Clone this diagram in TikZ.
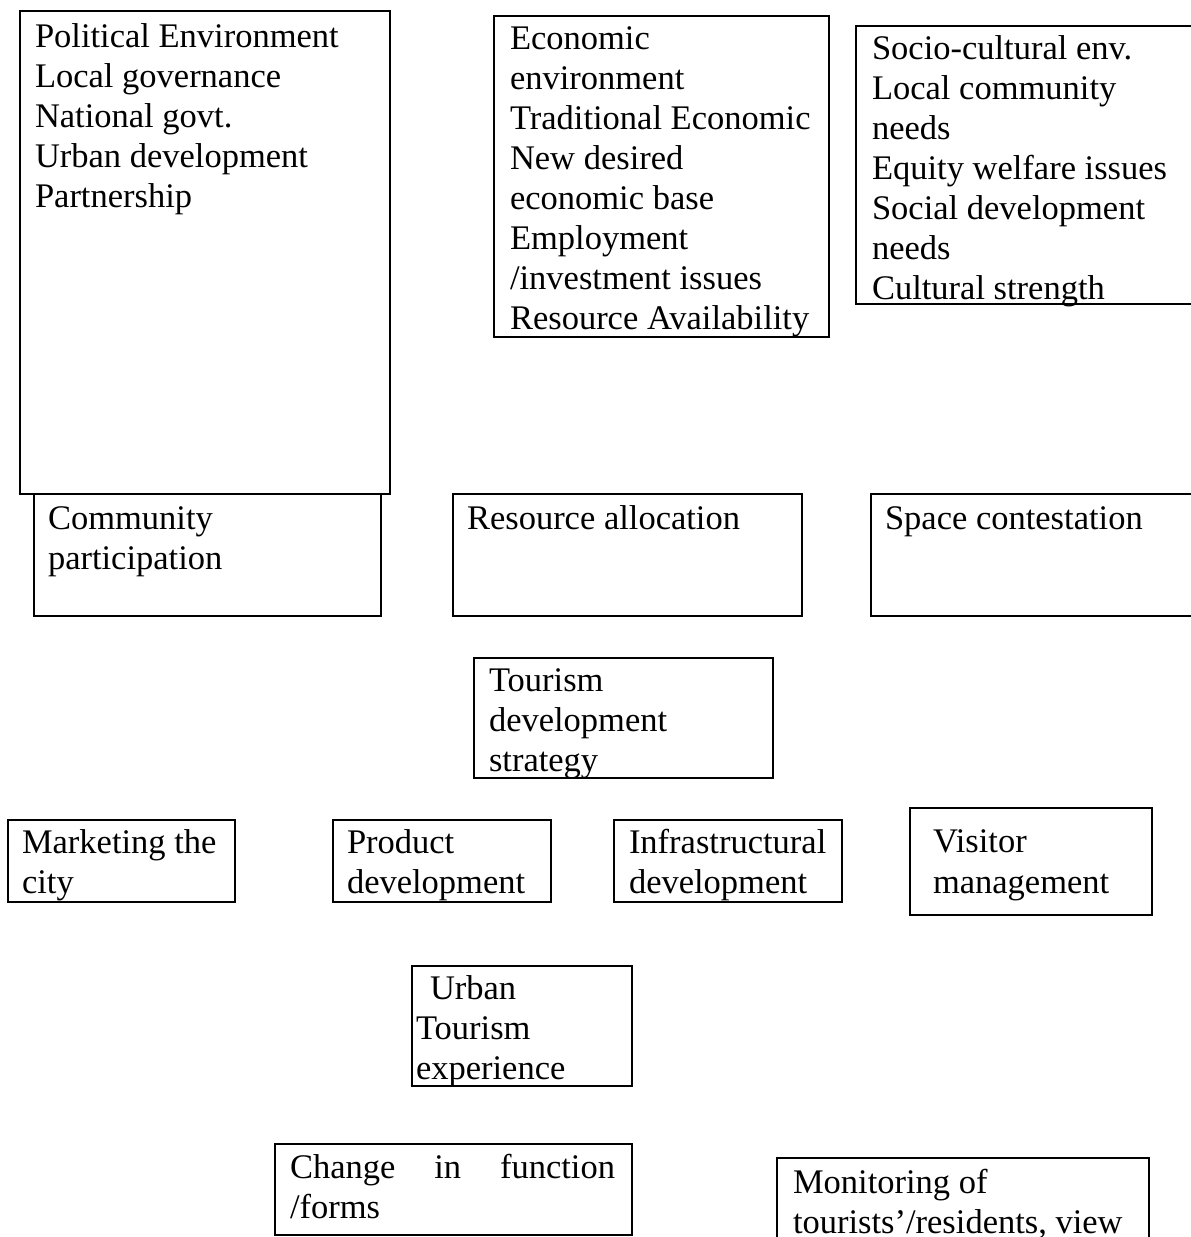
\documentclass[tikz,border=0pt]{standalone}
\usepackage{fontspec}
\setmainfont{Liberation Serif}
\begin{document}
\begin{tikzpicture}[x=1pt,y=-1pt,
  boxst/.style={draw=black,line width=1.7pt,inner sep=0pt,outer sep=0pt,anchor=north west,fill=none},
  txt/.style={inner sep=0pt,outer sep=0pt,anchor=base west,font=\fontsize{34.5}{40}\selectfont}]
\useasboundingbox (0,0) rectangle (1191,1237);
\clip (0,0) rectangle (1191,1237);
% boxes
\newcommand{\bx}[5]{\node[boxst,minimum width=#4-#2,minimum height=#5-#3] (#1) at (#2,#3) {};}
\bx{pol}{20}{11}{390}{494}
\bx{eco}{494}{16}{829}{337}
\bx{soc}{856}{26}{1210}{304}
\bx{com}{34}{494}{381}{616}
\bx{res}{453}{494}{802}{616}
\bx{spc}{871}{494}{1210}{616}
\bx{tds}{474}{658}{773}{778}
\bx{mkt}{8}{820}{235}{902}
\bx{prd}{333}{820}{551}{902}
\bx{inf}{614}{820}{842}{902}
\bx{vis}{910}{808}{1152}{915}
\bx{ute}{412}{966}{632}{1086}
\bx{chg}{275}{1144}{632}{1235}
\bx{mon}{777}{1158}{1149}{1270}
% texts
\node[txt] (polt) at (35,47) {\vtop{\baselineskip=40pt\hbox{Political Environment}\hbox{Local governance}\hbox{National govt.}\hbox{Urban development}\hbox{Partnership}}};
\node[txt] (ecot) at (510,49) {\vtop{\baselineskip=40pt\hbox{Economic}\hbox{environment}\hbox{Traditional Economic}\hbox{New desired}\hbox{economic base}\hbox{Employment}\hbox{/investment issues}\hbox{Resource Availability}}};
\node[txt] (soct) at (872,59) {\vtop{\baselineskip=40pt\hbox{Socio-cultural env.}\hbox{Local community}\hbox{needs}\hbox{Equity welfare issues}\hbox{Social development}\hbox{needs}\hbox{Cultural strength}}};
\node[txt] (comt) at (48,529) {\vtop{\baselineskip=40pt\hbox{Community}\hbox{participation}}};
\node[txt] (rest) at (467,529) {Resource allocation};
\node[txt] (spct) at (885,529) {Space contestation};
\node[txt] (tdst) at (489,691) {\vtop{\baselineskip=40pt\hbox{Tourism}\hbox{development}\hbox{strategy}}};
\node[txt] (mktt) at (22,853) {\vtop{\baselineskip=40pt\hbox{Marketing the}\hbox{city}}};
\node[txt] (prdt) at (347,853) {\vtop{\baselineskip=40pt\hbox{Product}\hbox{development}}};
\node[txt] (inft) at (629,853) {\vtop{\baselineskip=40pt\hbox{Infrastructural}\hbox{development}}};
\node[txt] (vist) at (933,852) {\vtop{\baselineskip=41pt\hbox{Visitor}\hbox{management}}};
\node[txt] (utet) at (416,999) {\vtop{\baselineskip=40pt\hbox{\hspace{14pt}Urban}\hbox{Tourism}\hbox{experience}}};
\node[txt] (chgt) at (290,1178) {\vtop{\baselineskip=40pt\hbox to 325pt{Change\hfill in\hfill function}\hbox{/forms}}};
\node[txt] (mont) at (793,1193) {\vtop{\baselineskip=40pt\hbox{Monitoring of}\hbox{tourists’/residents, view}}};
\end{tikzpicture}
\end{document}
